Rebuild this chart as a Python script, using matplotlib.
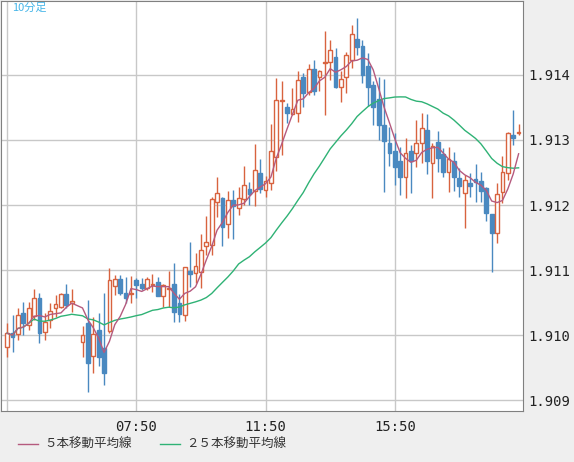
import numpy as np
import pandas as pd
import matplotlib
matplotlib.use("Agg")
import matplotlib.pyplot as plt
from matplotlib.patches import Rectangle

nan = np.nan
# 10-minute candles, index 0 = 03:50 (slot 13 has no data)
opens = [1.90982,1.91003,1.91002,1.91034,1.91015,1.91029,1.91057,1.91005,1.91023,1.91042,
         1.91043,1.91063,1.91049,nan,1.90989,1.91018,1.90968,1.91008,1.90980,1.91006,
         1.91075,1.91086,1.91065,1.91063,1.91085,1.91078,1.91072,1.91077,1.91082,1.91060,
         1.91071,1.91078,1.91049,1.91031,1.91098,1.91095,1.91097,1.91137,1.91138,1.91205,
         1.91211,1.91171,1.91208,1.91195,1.91209,1.91225,1.91222,1.91249,1.91223,1.91234,
         1.91274,1.91360,1.91351,1.91340,1.91342,1.91397,1.91374,1.91409,1.91397,1.91418,
         1.91420,1.91428,1.91382,1.91397,1.91423,1.91455,1.91445,1.91414,1.91385,1.91363,
         1.91323,1.91295,1.91283,1.91268,1.91243,1.91283,1.91280,1.91295,1.91315,1.91265,
         1.91297,1.91278,1.91251,1.91268,1.91242,1.91218,1.91234,1.91240,1.91237,1.91226,
         1.91186,1.91157,1.91220,1.91249,1.91308,1.91311]
highs = [1.91018,1.91031,1.91042,1.91051,1.91051,1.91071,1.91065,1.91034,1.91049,1.91062,
         1.91065,1.91078,1.91071,nan,1.91014,1.91054,1.91028,1.91034,1.91065,1.91103,
         1.91092,1.91092,1.91089,1.91091,1.91088,1.91088,1.91089,1.91094,1.91089,1.91078,
         1.91098,1.91111,1.91063,1.91105,1.91143,1.91126,1.91155,1.91183,1.91212,1.91243,
         1.91212,1.91222,1.91223,1.91228,1.91260,1.91235,1.91294,1.91271,1.91245,1.91325,
         1.91395,1.91391,1.91357,1.91380,1.91406,1.91403,1.91417,1.91423,1.91408,1.91468,
         1.91454,1.91442,1.91406,1.91435,1.91477,1.91488,1.91454,1.91434,1.91391,1.91397,
         1.91394,1.91320,1.91311,1.91289,1.91303,1.91292,1.91331,1.91342,1.91340,1.91295,
         1.91314,1.91288,1.91289,1.91282,1.91257,1.91246,1.91249,1.91263,1.91251,1.91228,
         1.91186,1.91234,1.91275,1.91312,1.91346,1.91325]
lows = [1.90966,1.90974,1.90992,1.91000,1.91008,1.91023,1.90988,1.90992,1.91011,1.91028,
        1.91042,1.91042,1.91035,nan,1.90966,1.90912,1.90942,1.90952,1.90923,1.91003,
        1.91062,1.91062,1.91049,1.91049,1.91057,1.91069,1.91069,1.91066,1.91060,1.91043,
        1.91043,1.91020,1.91020,1.91021,1.91074,1.91080,1.91072,1.91123,1.91123,1.91182,
        1.91137,1.91149,1.91148,1.91185,1.91200,1.91200,1.91198,1.91218,1.91212,1.91223,
        1.91252,1.91277,1.91326,1.91338,1.91328,1.91351,1.91369,1.91369,1.91375,1.91338,
        1.91392,1.91380,1.91358,1.91372,1.91411,1.91431,1.91388,1.91352,1.91323,1.91300,
        1.91220,1.91260,1.91231,1.91215,1.91211,1.91218,1.91258,1.91265,1.91248,1.91211,
        1.91251,1.91243,1.91220,1.91222,1.91212,1.91165,1.91212,1.91205,1.91205,1.91175,
        1.91097,1.91142,1.91203,1.91238,1.91292,1.91308]
closes = [1.91003,1.90997,1.91031,1.91018,1.91042,1.91057,1.91003,1.91020,1.91037,1.91048,
          1.91063,1.91046,1.91052,nan,1.91000,1.90957,1.91002,1.90966,1.90942,1.91085,
          1.91086,1.91065,1.91057,1.91065,1.91077,1.91072,1.91086,1.91078,1.91060,1.91077,
          1.91072,1.91035,1.91032,1.91105,1.91094,1.91106,1.91131,1.91143,1.91209,1.91218,
          1.91166,1.91208,1.91198,1.91211,1.91231,1.91217,1.91254,1.91225,1.91237,1.91283,
          1.91362,1.91362,1.91342,1.91348,1.91392,1.91372,1.91409,1.91375,1.91406,1.91420,
          1.91438,1.91382,1.91394,1.91431,1.91463,1.91443,1.91400,1.91382,1.91351,1.91323,
          1.91298,1.91280,1.91258,1.91243,1.91280,1.91268,1.91295,1.91318,1.91268,1.91291,
          1.91272,1.91251,1.91271,1.91243,1.91229,1.91238,1.91229,1.91235,1.91222,1.91188,
          1.91157,1.91217,1.91251,1.91311,1.91303,1.91312]
ytick_vals = [1.909, 1.910, 1.911, 1.912, 1.913, 1.914]
xtick_pos = [24, 48, 72]
xtick_labels = ["07:50", "11:50", "15:50"]
legend_labels = ["５本移動平均線", "２５本移動平均線"]

UP = "#d8633f"; DN = "#4a89c0"; MA5C = "#b55a7e"; MA25C = "#2fb275"

df = pd.DataFrame({"o": opens, "h": highs, "l": lows, "c": closes})
valid = df.dropna()
ma5 = valid["c"].rolling(5, min_periods=1).mean()
ma25 = valid["c"].rolling(25, min_periods=1).mean()

plt.rcParams['font.family'] = ['Noto Sans CJK JP', 'DejaVu Sans']
fig = plt.figure(figsize=(5.74, 4.62), dpi=100, facecolor="#efefef")
ax = fig.add_axes([0.002, 0.110, 0.909, 0.888], facecolor="white")
ax.set_xlim(-1.11, 95.8)
ax.set_ylim(1.908831, 1.915138)

for y in ytick_vals:
    ax.axhline(y, color="#c8c8c8", lw=1, zorder=0)
for x in [0] + xtick_pos:
    ax.axvline(x, color="#c8c8c8", lw=1, zorder=0)

w = 0.7
for i, r in valid.iterrows():
    up = r.c >= r.o
    col = UP if up else DN
    ax.vlines(i, r.l, r.h, color=col, lw=1, zorder=2)
    lo, hi = min(r.o, r.c), max(r.o, r.c)
    hgt = max(hi - lo, 0.000005)
    ax.add_patch(Rectangle((i - w / 2, lo), w, hgt, facecolor="white" if up else col,
                           edgecolor=col, lw=1, zorder=3))

ax.plot(ma25.index, ma25.values, color=MA25C, lw=1, zorder=4)
ax.plot(ma5.index, ma5.values, color=MA5C, lw=1, zorder=5)

ax.yaxis.tick_right()
ax.set_yticks(ytick_vals)
ax.set_yticklabels([f"{v:.3f}" for v in ytick_vals], family="DejaVu Sans Mono", fontsize=10, color="#222222")
ax.set_xticks(xtick_pos)
ax.set_xticklabels(xtick_labels, family="DejaVu Sans Mono", fontsize=10, color="#222222")
ax.tick_params(length=0, pad=4)
ax.tick_params(axis="x", pad=6)
for s in ax.spines.values():
    s.set_color("#808080")

ax.text(0.02, 0.995, "10分足", transform=ax.transAxes, ha="left", va="top", color="#45b5e8", fontsize=8)

fig.lines.append(plt.Line2D([18/574, 38/574], [1-444/462]*2, color=MA5C, lw=1, transform=fig.transFigure))
fig.text(44/574, 1-444/462, legend_labels[0], va="center", fontsize=9, color="#333333")
fig.lines.append(plt.Line2D([160/574, 180/574], [1-444/462]*2, color=MA25C, lw=1, transform=fig.transFigure))
fig.text(186/574, 1-444/462, legend_labels[1], va="center", fontsize=9, color="#333333")

fig.savefig("out.png", dpi=100, facecolor=fig.get_facecolor())
